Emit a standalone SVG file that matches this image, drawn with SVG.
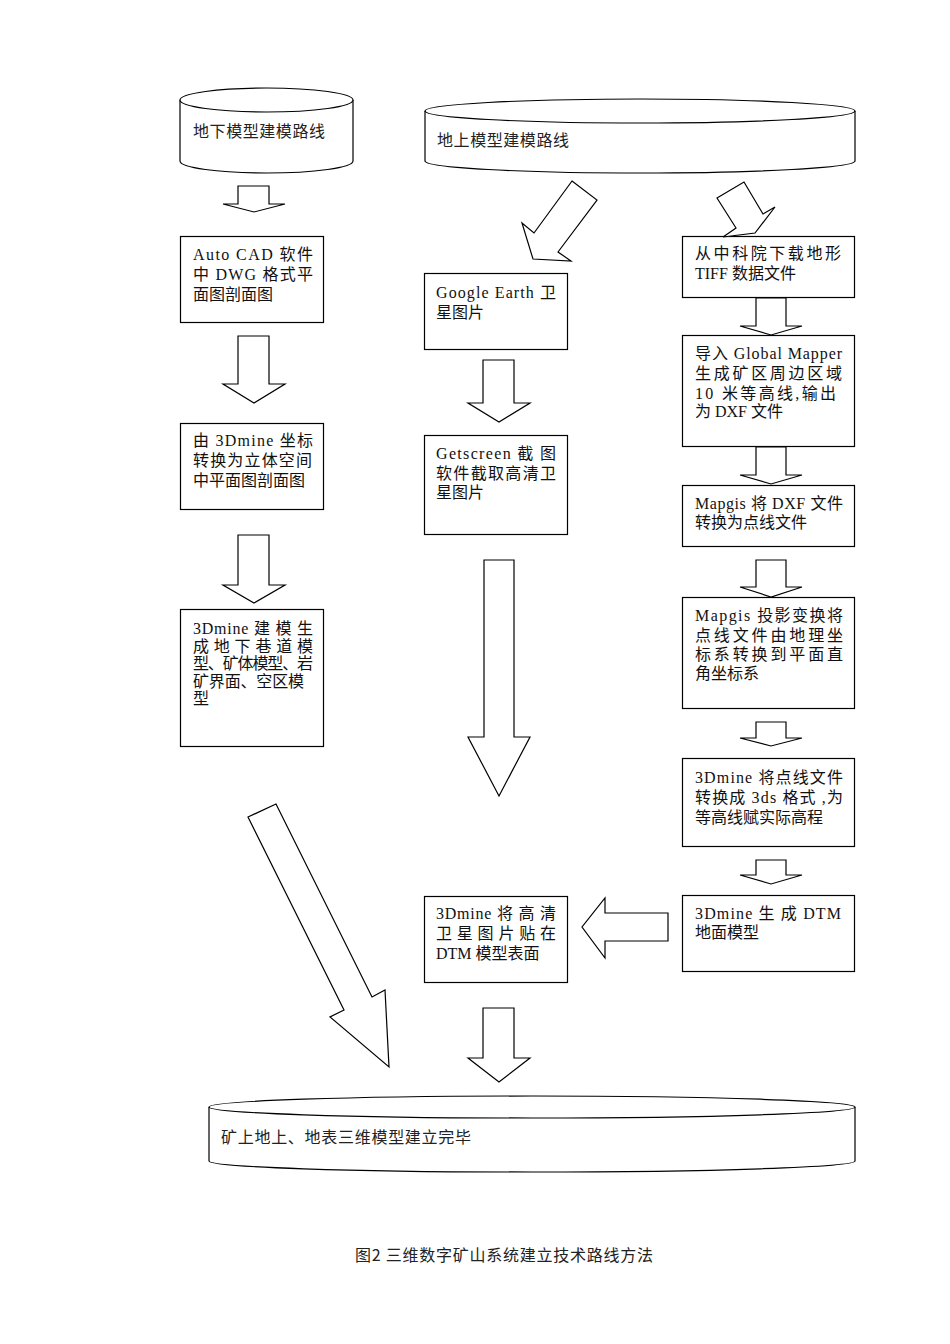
<svg xmlns="http://www.w3.org/2000/svg" width="950" height="1344" viewBox="0 0 950 1344">
<style>
.s{fill:#fff;stroke:#000;stroke-width:1.2}
.t{font-family:"Liberation Serif","Noto Sans CJK SC",serif;font-size:16px;fill:#111}
.c{font-family:"Noto Sans CJK SC","Liberation Sans",sans-serif;font-size:16px;fill:#222}
</style>
<rect width="950" height="1344" fill="#fff"/>
<g id="cyl-underground">
<path class="s" d="M180,100 L180,161 A86.5,12 0 0 0 353,161 L353,100"/>
<ellipse class="s" cx="266.5" cy="100" rx="86.5" ry="12"/>
<text class="c" x="193" y="137" textLength="132" lengthAdjust="spacing">地下模型建模路线</text>
</g>
<g id="cyl-surface">
<path class="s" d="M425,111 L425,161 A215,12 0 0 0 855,161 L855,111"/>
<ellipse class="s" cx="640" cy="111" rx="215" ry="12"/>
<text class="c" x="437" y="146" textLength="132" lengthAdjust="spacing">地上模型建模路线</text>
</g>
<g id="box-autocad">
<rect class="s" x="180.5" y="236.5" width="143" height="86"/>
<text class="t" x="193" y="260" textLength="120" lengthAdjust="spacing">Auto CAD 软件</text>
<text class="t" x="193" y="280" textLength="120" lengthAdjust="spacing">中 DWG 格式平</text>
<text class="t" x="193" y="300">面图剖面图</text>
</g>
<g id="box-3dmine-convert">
<rect class="s" x="180.5" y="423.5" width="143" height="86"/>
<text class="t" x="193" y="446" textLength="120" lengthAdjust="spacing">由 3Dmine 坐标</text>
<text class="t" x="193" y="466" textLength="119" lengthAdjust="spacing">转换为立体空间</text>
<text class="t" x="193" y="486">中平面图剖面图</text>
</g>
<g id="box-3dmine-model">
<rect class="s" x="180.5" y="609.5" width="143" height="137"/>
<text class="t" x="193" y="634" textLength="120" lengthAdjust="spacing">3Dmine 建 模 生</text>
<text class="t" x="193" y="651.5" textLength="120" lengthAdjust="spacing">成 地 下 巷 道 模</text>
<text class="t" x="193" y="669" textLength="120" lengthAdjust="spacing">型、矿体模型、岩</text>
<text class="t" x="193" y="686.5" textLength="111" lengthAdjust="spacing">矿界面、空区模</text>
<text class="t" x="193" y="704">型</text>
</g>
<g id="box-google">
<rect class="s" x="424.5" y="273.5" width="143" height="76"/>
<text class="t" x="436" y="298" textLength="120" lengthAdjust="spacing">Google Earth 卫</text>
<text class="t" x="436" y="318">星图片</text>
</g>
<g id="box-getscreen">
<rect class="s" x="424.5" y="435.5" width="143" height="99"/>
<text class="t" x="436" y="459" textLength="120" lengthAdjust="spacing">Getscreen 截 图</text>
<text class="t" x="436" y="479" textLength="120" lengthAdjust="spacing">软件截取高清卫</text>
<text class="t" x="436" y="498">星图片</text>
</g>
<g id="box-paste">
<rect class="s" x="424.5" y="896.5" width="143" height="86"/>
<text class="t" x="436" y="919" textLength="120" lengthAdjust="spacing">3Dmine 将 高 清</text>
<text class="t" x="436" y="939" textLength="120" lengthAdjust="spacing">卫 星 图 片 贴 在</text>
<text class="t" x="436" y="959">DTM 模型表面</text>
</g>
<g id="box-tiff">
<rect class="s" x="682.5" y="236.5" width="172" height="61"/>
<text class="t" x="695" y="259" textLength="146" lengthAdjust="spacing">从中科院下载地形</text>
<text class="t" x="695" y="279">TIFF 数据文件</text>
</g>
<g id="box-globalmapper">
<rect class="s" x="682.5" y="335.5" width="172" height="111"/>
<text class="t" x="695" y="359" textLength="147" lengthAdjust="spacing">导入 Global Mapper</text>
<text class="t" x="695" y="379" textLength="147" lengthAdjust="spacing">生成矿区周边区域</text>
<text class="t" x="695" y="399" textLength="141" lengthAdjust="spacing">10 米等高线,输出</text>
<text class="t" x="695" y="417">为 DXF 文件</text>
</g>
<g id="box-mapgis-dxf">
<rect class="s" x="682.5" y="485.5" width="172" height="61"/>
<text class="t" x="695" y="509" textLength="148" lengthAdjust="spacing">Mapgis 将 DXF 文件</text>
<text class="t" x="695" y="528">转换为点线文件</text>
</g>
<g id="box-mapgis-proj">
<rect class="s" x="682.5" y="597.5" width="172" height="111"/>
<text class="t" x="695" y="621" textLength="148" lengthAdjust="spacing">Mapgis 投影变换将</text>
<text class="t" x="695" y="641" textLength="148" lengthAdjust="spacing">点线文件由地理坐</text>
<text class="t" x="695" y="660" textLength="148" lengthAdjust="spacing">标系转换到平面直</text>
<text class="t" x="695" y="679">角坐标系</text>
</g>
<g id="box-3dmine-3ds">
<rect class="s" x="682.5" y="758.5" width="172" height="88"/>
<text class="t" x="695" y="783" textLength="148" lengthAdjust="spacing">3Dmine 将点线文件</text>
<text class="t" x="695" y="803" textLength="148" lengthAdjust="spacing">转换成 3ds 格式 ,为</text>
<text class="t" x="695" y="823">等高线赋实际高程</text>
</g>
<g id="box-dtm">
<rect class="s" x="682.5" y="895.5" width="172" height="76"/>
<text class="t" x="695" y="919" textLength="146" lengthAdjust="spacing">3Dmine 生 成 DTM</text>
<text class="t" x="695" y="938">地面模型</text>
</g>
<g id="cyl-done">
<path class="s" d="M209,1107 L209,1161 A323,11 0 0 0 855,1161 L855,1107"/>
<ellipse class="s" cx="532" cy="1107" rx="323" ry="11"/>
<text class="c" x="221" y="1143" textLength="250" lengthAdjust="spacing">矿上地上、地表三维模型建立完毕</text>
</g>
<g id="connectors">
<polygon class="s" points="238,186 269,186 269,204 285,204 254,212 223,204 238,204"/>
<polygon class="s" points="238,336 269,336 269,384 285,384 254,403 223,384 238,384"/>
<polygon class="s" points="238,535 269,535 269,585 285,585 254,603 223,585 238,585"/>
<polygon class="s" points="483,360 514,360 514,403 530,403 499,422 468,403 483,403"/>
<polygon class="s" points="484,560 514,560 514,737 530,737 499,796 468,737 484,737"/>
<polygon class="s" points="483,1008 514,1008 514,1058 530,1058 499,1082 468,1058 483,1058"/>
<polygon class="s" points="756,298 786,298 786,326 802,326 771,335 740,326 756,326"/>
<polygon class="s" points="756,447 786,447 786,475 802,475 771,484 740,475 756,475"/>
<polygon class="s" points="756,560 786,560 786,587 802,587 771,597 740,587 756,587"/>
<polygon class="s" points="756,722 786,722 786,738 802,738 771,746 740,738 756,738"/>
<polygon class="s" points="756,860 786,860 786,875 802,875 771,884 740,875 756,875"/>
<polygon class="s" points="668,913 668,941 605,941 605,958 582,927 605,898 605,913"/>
<polygon class="s" points="572,181 597,200 558,252 571,261 533,259 522,223 534,233"/>
<polygon class="s" points="717,198 744,182 763,214 775,207 755,233 723,237 736,228"/>
<polygon class="s" points="248,817 276,804 372,997 385,990 389,1067 330,1017 344,1010"/>
</g>
<text class="c" x="355" y="1261" textLength="298" lengthAdjust="spacing">图2 三维数字矿山系统建立技术路线方法</text>
</svg>
